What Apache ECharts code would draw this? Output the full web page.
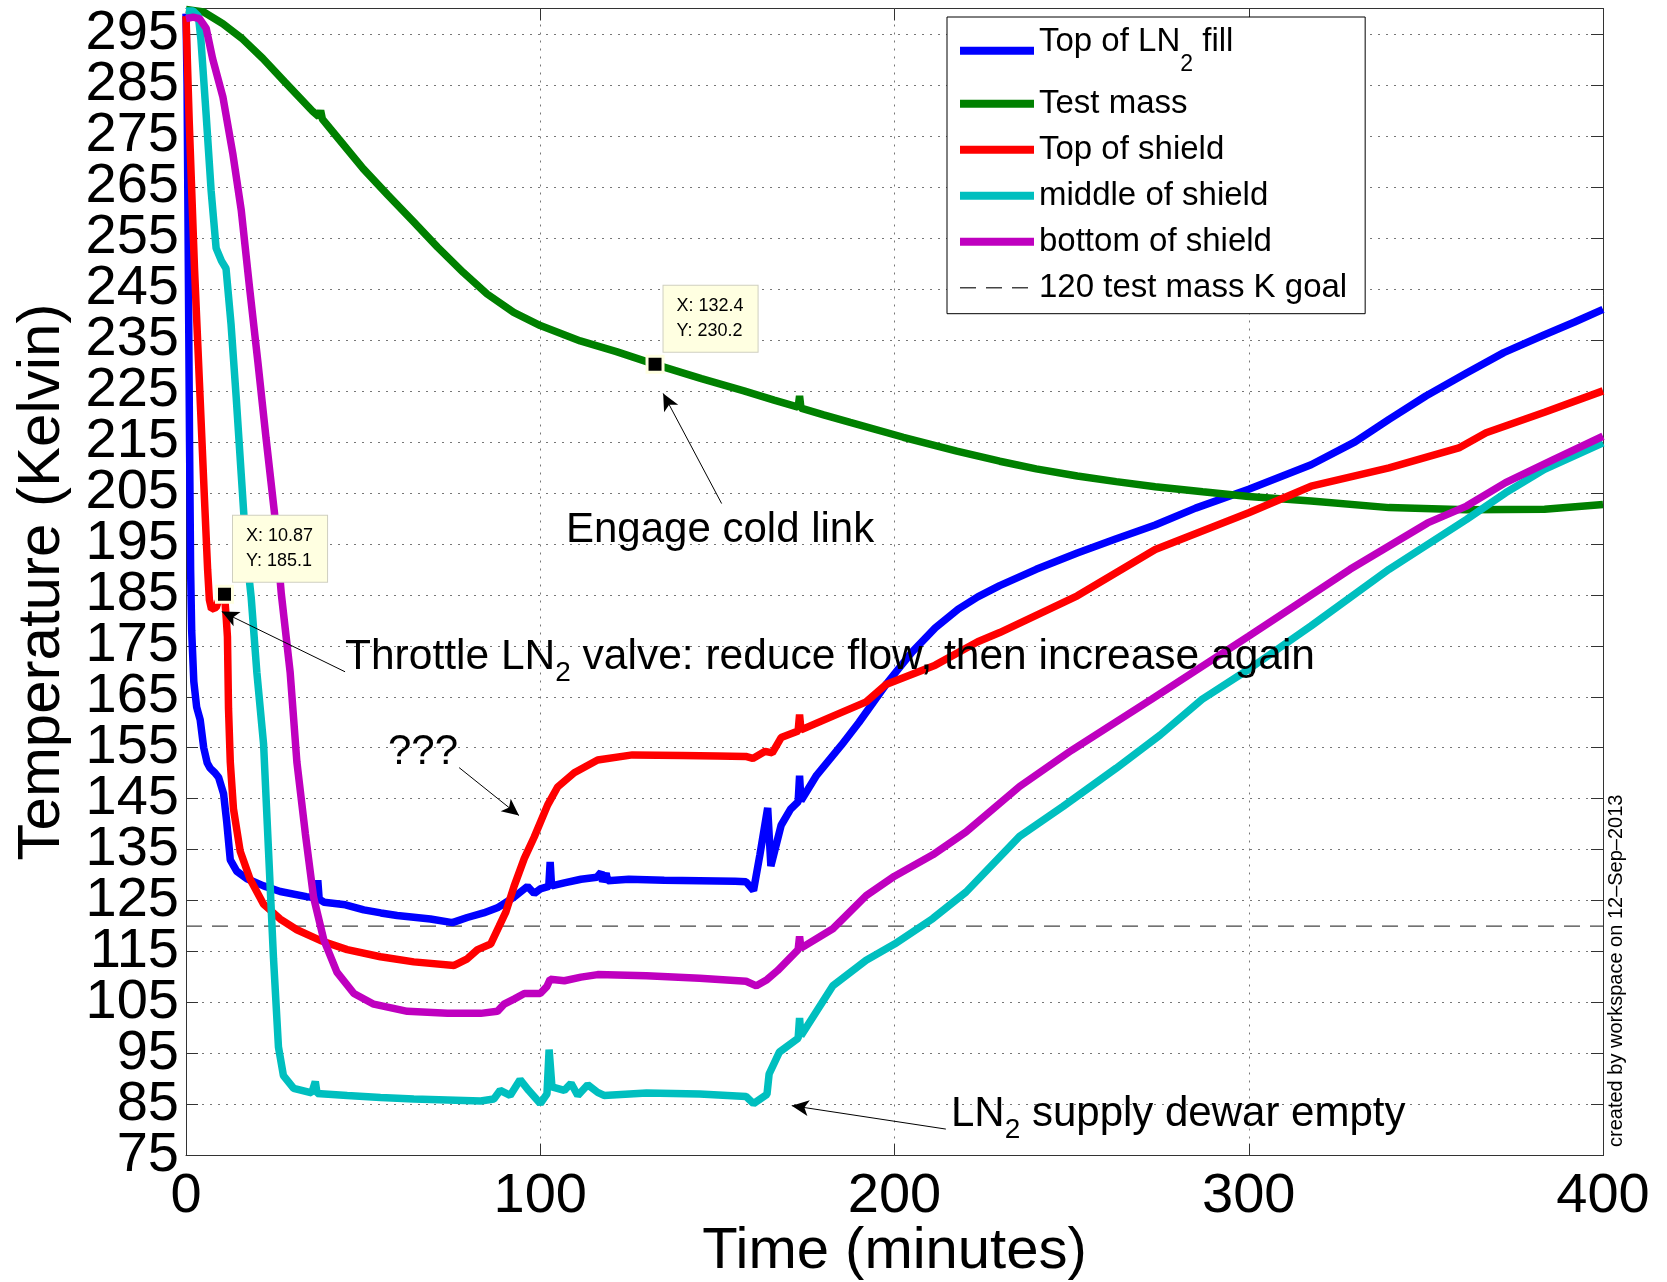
<!DOCTYPE html>
<html>
<head>
<meta charset="utf-8">
<script src="https://cdn.jsdelivr.net/npm/echarts@6/dist/echarts.min.js"></script>
<style>
html, body { margin: 0; padding: 0; background: #fff; }
#container { width: 1667px; height: 1282px; }
</style>
</head>
<body>
<div id="container"></div>
<script>
// time (minutes), temperature (K)
var lnFill = [[0, 299], [0.3, 285], [0.6, 255], [1.0, 215], [1.3, 190], [1.6, 178], [2.2, 168], [3, 163], [4, 160.5],
    [5, 155], [6, 152], [6.8, 151], [8, 150.2], [9.2, 149.2], [10.6, 146], [11.5, 140.4], [12.5, 133], [14.3, 130.8],
    [17.2, 129.3], [21.9, 127.9], [26.6, 126.8], [34, 125.8], [36.8, 125.5], [37.2, 129], [37.6, 125.3], [39, 124.7],
    [45, 124.2], [50.2, 123.2], [55, 122.6], [59.6, 122.1], [69, 121.4], [75.2, 120.7], [79.4, 121.7], [84, 122.6],
    [87.9, 123.6], [92.6, 125.7], [96.4, 127.8], [98.3, 126.4], [100, 127.3], [102.4, 127.8], [102.8, 132.6],
    [103.2, 127.9], [106.8, 128.5], [111.5, 129.2], [116, 129.6], [117.2, 130.6], [117.6, 128.7], [118.6, 130.4],
    [119, 128.9], [125, 129.2], [135, 129], [145, 128.9], [155, 128.8], [158.1, 128.7], [160.2, 127], [162, 134],
    [164.2, 143.2], [165.1, 131.8], [168, 139.8], [170.7, 143], [172.8, 144.4], [173.2, 149.5], [173.6, 144.6],
    [178, 149.6], [185, 155.5], [190, 160], [197.8, 167.6], [205, 173.8], [211.5, 178.5], [218, 182.2],
    [223.5, 184.6], [229.7, 186.8], [240, 190], [251.6, 193.2], [262.6, 196], [273.6, 198.7], [285, 202],
    [300, 205.7], [317.6, 210.5], [330, 215], [339.6, 219.4], [350, 224], [361.5, 228.5], [372, 232.5],
    [383.5, 236], [392, 238.5], [400, 241]];

var testMass = [[0, 299.8], [5, 299.3], [10.4, 297], [16, 294], [21.7, 290.2], [28, 285.5], [35.8, 279.8],
    [37.5, 278.8], [38, 280], [38.5, 278.3], [43, 274.5], [50, 268.6], [57, 263.4], [64.2, 258.2], [71, 253.2],
    [78.3, 248.2], [85, 244], [92.5, 240.4], [100, 237.8], [111.3, 234.8], [121.5, 232.7], [132.4, 230.2],
    [145.5, 227.4], [157.5, 225], [166, 223.2], [172.8, 221.8], [173.2, 224], [173.6, 221.6], [180, 220.3],
    [187.5, 218.8], [202.5, 215.9], [217.6, 213.2], [229.7, 211.2], [240, 209.7], [251.6, 208.3], [262.6, 207.2],
    [273.6, 206.2], [287, 205.2], [300, 204.3], [317.6, 203.4], [339.6, 202.1], [361.5, 201.7], [383.5, 201.8],
    [400, 202.7]];

var shieldTop = [[0, 298.5], [0.9, 278], [2.4, 249], [3.8, 226.5], [5.2, 204], [6.1, 190], [6.6, 184], [7.2, 182.2],
    [8.5, 182.5], [9.5, 184.5], [10.87, 185.1], [11.4, 180], [11.7, 176.7], [12, 162.7], [12.5, 152.2], [13.4, 143],
    [15.3, 134.7], [18.1, 129.2], [21.9, 124.3], [26.6, 121.4], [31.3, 119.3], [37.9, 117.2], [45.5, 115.4],
    [54.9, 114], [64.3, 113], [75.7, 112.3], [79.4, 113.6], [82.3, 115.4], [86, 116.5], [88.4, 120], [90.3, 122.8],
    [92.6, 127.8], [95.5, 133.3], [98.3, 137.5], [102.1, 143.8], [104.9, 147.3], [109.6, 150.1], [116.2, 152.6],
    [126, 153.6], [140, 153.5], [150, 153.4], [158, 153.3], [160, 152.9], [163.5, 154.3], [165.5, 154], [168, 157],
    [172.8, 158.3], [173.2, 161.5], [173.6, 158.5], [182.6, 161.2], [192, 164], [197.6, 167.4], [211.5, 171.2],
    [223.5, 175.8], [229.7, 177.6], [251.6, 184.8], [273.6, 193.9], [300, 201.1], [317.6, 206.3], [339.6, 209.9],
    [359.3, 213.8], [367, 216.8], [383.5, 220.8], [400, 225]];

var shieldMid = [[0, 299.5], [2, 299.5], [3.5, 298.5], [4.2, 294], [5.7, 279], [7.1, 264.2], [8.5, 253], [10, 250.5],
    [11.3, 249], [12.7, 238.2], [14.2, 223.4], [15.6, 208.5], [17, 193.6], [18.4, 184.5], [20, 169.8], [21.9, 155.7],
    [23.3, 134.7], [24.7, 113.7], [26.1, 96.3], [27.5, 90.7], [30.4, 88.2], [35.5, 87.3], [36.5, 89.5], [37, 87.2],
    [45.5, 86.8], [54.9, 86.4], [64.3, 86.1], [73.7, 85.9], [83.2, 85.7], [86.9, 86.1], [88.7, 87.8], [91.5, 86.8],
    [94.3, 89.9], [96.7, 87.8], [100, 85.2], [101.9, 87.1], [102.5, 95.8], [103.3, 88.5], [106.8, 87.8],
    [108.7, 89.2], [110.6, 86.8], [113.4, 88.9], [116.2, 87.4], [118, 86.8], [130, 87.3], [145, 87.1],
    [158.1, 86.6], [160.2, 85.2], [164, 87], [164.6, 91], [167.5, 95.3], [172.8, 98], [173.2, 102], [173.6, 98.5],
    [182.6, 108.3], [192, 113.3], [200, 116.5], [210.8, 121.5], [220.2, 126.7], [235.3, 137.6], [247.6, 143.5],
    [262.6, 151], [275, 157.5], [286.8, 164.5], [300, 170.4], [317.6, 178.9], [339.6, 190], [361.5, 199.8],
    [372.5, 205], [383.5, 209.6], [400, 214.8]];

var shieldBot = [[0, 298], [2, 298.3], [3.8, 298], [5.7, 296.1], [7.5, 290.2], [10.4, 282.7], [13.2, 271.6],
    [15.6, 260.4], [17.9, 245.5], [20.3, 230.6], [22.6, 215.7], [25, 200.9], [26.9, 185.2], [29.4, 169.8],
    [31.3, 152.2], [33.7, 138.1], [36, 125.7], [38.9, 117.3], [42.6, 111], [47.4, 106.8], [53, 104.7],
    [62.5, 103.3], [73.8, 102.9], [83.2, 102.9], [87.9, 103.3], [89.8, 104.7], [92.6, 105.7], [95.5, 106.8],
    [100, 106.8], [101.9, 108.2], [102.8, 109.6], [106.8, 109.3], [111.5, 110], [116.2, 110.5], [130, 110.3],
    [145, 109.8], [158.1, 109.2], [161, 108.3], [164, 109.5], [167, 111.3], [172.8, 115.4], [173.2, 118],
    [173.6, 115.7], [182.6, 119.5], [192, 126], [200, 129.8], [210.8, 134], [220.2, 138.5], [235.3, 147.4],
    [250, 154.5], [272.5, 164.5], [300, 176.9], [328.6, 190], [350.5, 199.1], [361.5, 202.4], [372.5, 207],
    [386, 211.5], [400, 216.1]];

var goalLine = [[0, 120], [400, 120]];

// data tips [time, temperature]
var tipShield = [10.87, 185.1];
var tipMass = [132.4, 230.2];

// annotation arrows: [from, to] in data units
var arrows = [
    [[44.9, 169.9], [10.1, 181.7]],
    [[151.2, 202.9], [134.7, 224.5]],
    [[77.1, 151.1], [94, 141.7]],
    [[214.5, 80.2], [171, 84.8]]
];

var legendNames = ['Top of LN2 fill', 'Test mass', 'Top of shield', 'middle of shield', 'bottom of shield', '120 test mass K goal'];

var FONT = 'Liberation Sans, Arial, Helvetica, sans-serif';

var dom = document.getElementById('container');
var myChart = echarts.init(dom);

function tipPoint(tip) {
    return {
        symbol: 'rect',
        symbolSize: 16,
        silent: true,
        itemStyle: { color: '#000', borderColor: '#ffffe1', borderWidth: 3 },
        label: {
            show: true,
            position: [18, -69],
            formatter: 'X: ' + tip[0] + '\nY: ' + tip[1],
            backgroundColor: '#ffffe1',
            borderColor: '#cfcfc0',
            borderWidth: 1,
            padding: [8, 14, 8, 13],
            fontSize: 18,
            lineHeight: 25,
            color: '#000',
            fontFamily: FONT
        },
        data: [{ coord: tip }]
    };
}

function curve(name, data, color, extra) {
    var s = {
        name: name,
        type: 'line',
        data: data,
        symbol: 'none',
        showSymbol: false,
        lineStyle: { color: color, width: 7.5 },
        itemStyle: { color: color }
    };
    if (extra) s.markPoint = extra;
    return s;
}

var axisBase = {
    type: 'value',
    axisLine: { show: true, onZero: false, lineStyle: { color: '#333', width: 1 } },
    axisTick: { show: true, inside: true, length: 12, lineStyle: { color: '#333' } }
};

var yLabelStyle = { fontSize: 56, color: '#000', margin: 7, fontFamily: FONT };

option = {
    animation: false,
    backgroundColor: '#fff',
    grid: { left: 186, right: 64, top: 8.5, bottom: 126.4, containLabel: false, outerBoundsMode: 'none' },

    xAxis: [
        Object.assign({}, axisBase, {
            min: 0, max: 400, interval: 100,
            position: 'bottom',
            name: 'Time (minutes)',
            nameLocation: 'middle',
            nameGap: 67,
            nameMoveOverlap: false,
            nameTextStyle: { fontSize: 58, color: '#000', fontFamily: FONT },
            axisLabel: { fontSize: 56, color: '#000', margin: 13, fontFamily: FONT, showMinLabel: true, showMaxLabel: true },
            splitLine: { show: true, lineStyle: { color: '#777', width: 1, type: [2, 6] } }
        }),
        Object.assign({}, axisBase, {
            min: 0, max: 400, interval: 100,
            position: 'top',
            axisLabel: { show: false },
            splitLine: { show: false }
        })
    ],

    yAxis: [
        Object.assign({}, axisBase, {
            min: 75, max: 300, interval: 10,
            position: 'left',
            name: 'Temperature (Kelvin)',
            nameLocation: 'middle',
            nameGap: 114,
            nameMoveOverlap: false,
            nameTextStyle: { fontSize: 60, color: '#000', fontFamily: FONT },
            // 75 is drawn by the helper axis below, so the 85 label is not dropped as overlapping
            axisLabel: Object.assign({}, yLabelStyle, {
                showMinLabel: true, hideOverlap: false,
                formatter: function (v) { return (v <= 75 || v >= 300) ? '' : v; }
            }),
            splitLine: { show: true, lineStyle: { color: '#777', width: 1, type: [2, 6] } }
        }),
        Object.assign({}, axisBase, {
            min: 75, max: 300, interval: 10,
            position: 'right',
            axisLabel: { show: false },
            splitLine: { show: false }
        }),
        {
            type: 'value',
            min: 75, max: 300, interval: 10,
            position: 'left',
            axisLine: { show: false },
            axisTick: { show: false },
            splitLine: { show: false },
            axisLabel: Object.assign({}, yLabelStyle, {
                showMinLabel: true, hideOverlap: false,
                formatter: function (v) { return v === 75 ? '75' : ''; }
            })
        }
    ],

    legend: {
        orient: 'vertical',
        left: 947,
        top: 17,
        padding: [8.7, 18, 8, 9],
        itemGap: 10,
        itemWidth: 74,
        itemHeight: 8,
        selectedMode: false,
        backgroundColor: '#fff',
        borderColor: '#000',
        borderWidth: 1,
        borderRadius: 0,
        itemStyle: { opacity: 0 },
        lineStyle: { width: 8 },
        data: legendNames.map(function (n) {
            return n === '120 test mass K goal' ? { name: n, lineStyle: { width: 1.5 } } : { name: n };
        }),
        formatter: function (name) {
            return name === 'Top of LN2 fill' ? '{m|Top of LN}{s|2}{m| fill}' : name;
        },
        textStyle: {
            fontSize: 33, color: '#000', lineHeight: 36, fontFamily: FONT,
            rich: {
                m: { fontSize: 33, lineHeight: 25, verticalAlign: 'top', color: '#000', fontFamily: FONT },
                s: { fontSize: 23, lineHeight: 50, verticalAlign: 'bottom', color: '#000', fontFamily: FONT }
            }
        }
    },

    series: [
        curve('Top of LN2 fill', lnFill, '#0000ff'),
        curve('Test mass', testMass, '#008000', tipPoint(tipMass)),
        curve('Top of shield', shieldTop, '#ff0000', tipPoint(tipShield)),
        curve('middle of shield', shieldMid, '#00bfbf'),
        curve('bottom of shield', shieldBot, '#bf00bf'),
        {
            name: '120 test mass K goal',
            type: 'line',
            data: goalLine,
            symbol: 'none',
            showSymbol: false,
            z: 1,
            lineStyle: { color: '#444', width: 1.2, type: [16, 10] },
            itemStyle: { color: '#444' },
            markLine: {
                silent: true,
                symbol: ['none', 'arrow'],
                symbolSize: [12, 17],
                label: { show: false },
                lineStyle: { color: '#000', width: 1, type: 'solid' },
                z: 10,
                data: arrows.map(function (a) {
                    return [{ coord: a[0] }, { coord: a[1] }];
                })
            }
        }
    ],

    graphic: [
        {
            type: 'text', x: 345, y: 627, z: 100, silent: true,
            style: {
                text: '{a|Throttle LN}{s|2}{a| valve: reduce flow, then increase again}',
                verticalAlign: 'top',
                rich: {
                    a: { fontSize: 42.5, lineHeight: 60, fontFamily: FONT, fill: '#000' },
                    s: { fontSize: 28, lineHeight: 16, verticalAlign: 'bottom', fontFamily: FONT, fill: '#000' }
                }
            }
        },
        {
            type: 'text', x: 388, y: 752, z: 100, silent: true,
            style: { text: '???', fontSize: 42, fontFamily: FONT, fill: '#000', verticalAlign: 'middle' }
        },
        {
            type: 'text', x: 566, y: 530, z: 100, silent: true,
            style: { text: 'Engage cold link', fontSize: 42, fontFamily: FONT, fill: '#000', verticalAlign: 'middle' }
        },
        {
            type: 'text', x: 951, y: 1084, z: 100, silent: true,
            style: {
                text: '{a|LN}{s|2}{a| supply dewar empty}',
                verticalAlign: 'top',
                rich: {
                    a: { fontSize: 42, lineHeight: 60, fontFamily: FONT, fill: '#000' },
                    s: { fontSize: 28, lineHeight: 16, verticalAlign: 'bottom', fontFamily: FONT, fill: '#000' }
                }
            }
        },
        {
            type: 'text', x: 1616, y: 1147, rotation: Math.PI / 2, z: 100, silent: true,
            style: {
                text: 'created by workspace on 12\u2013Sep\u20132013',
                fontSize: 20, fontFamily: FONT, fill: '#000',
                align: 'left', verticalAlign: 'middle'
            }
        }
    ]
};

if (option && typeof option === 'object') {
    myChart.setOption(option, true);
}
</script>
</body>
</html>
